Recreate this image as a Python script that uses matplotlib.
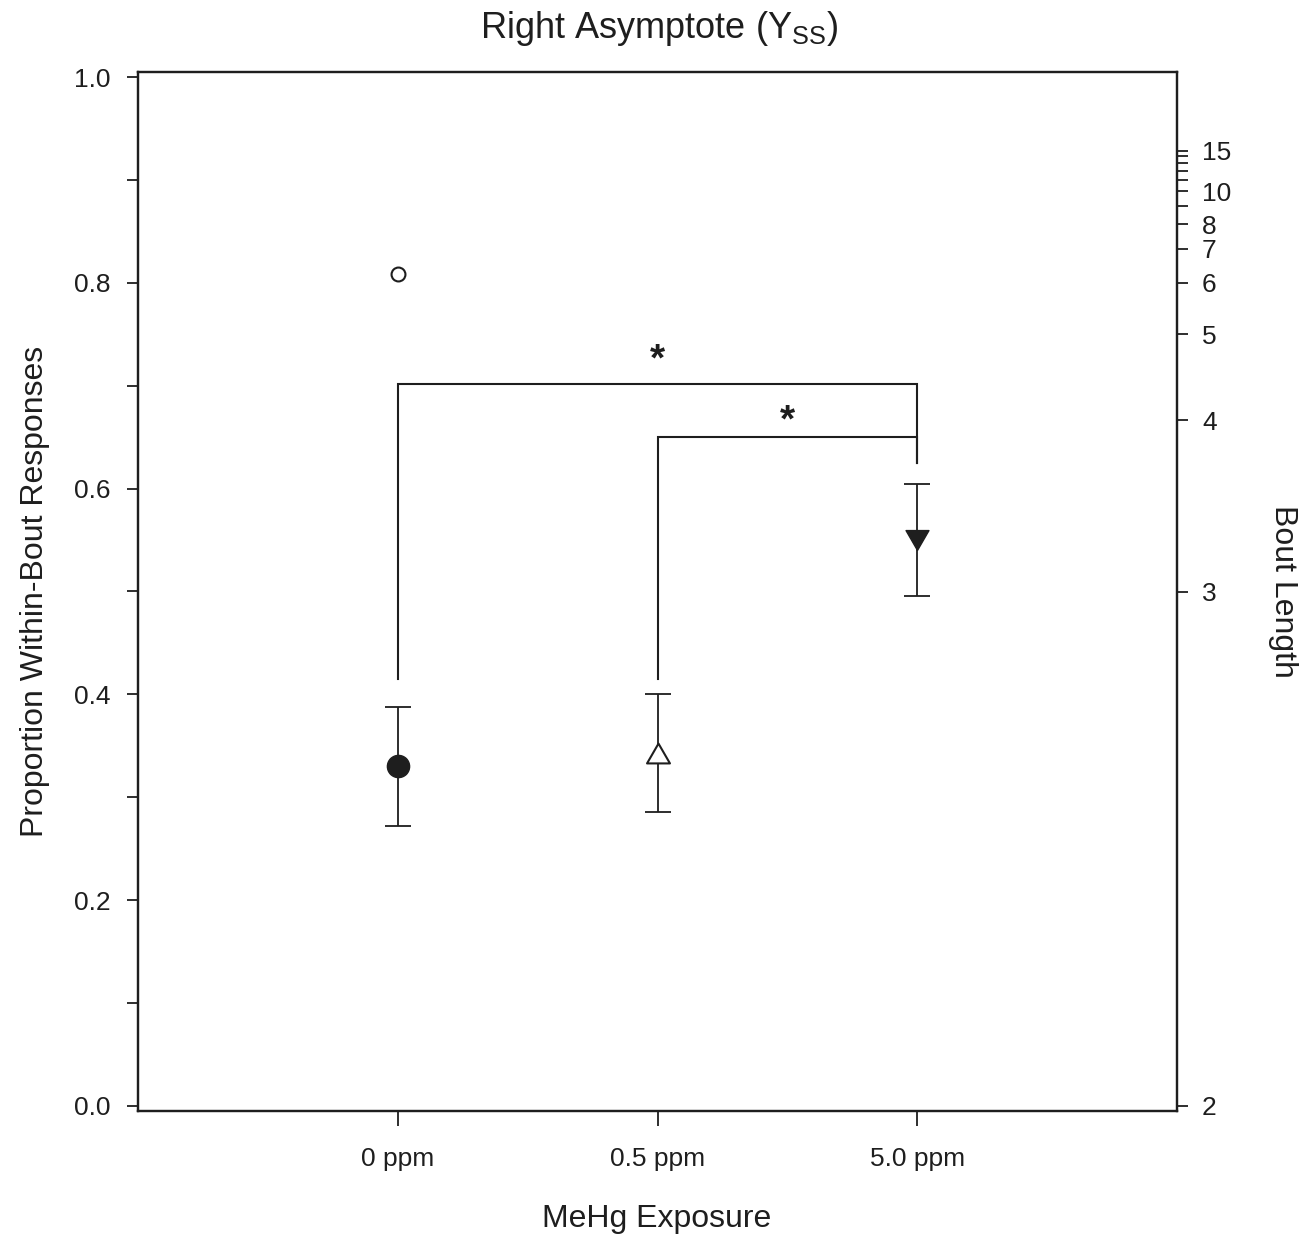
import matplotlib
matplotlib.use("Agg")
import matplotlib.pyplot as plt
from matplotlib.path import Path
import numpy as np

plt.rcParams['font.family'] = ['Liberation Sans', 'DejaVu Sans']
plt.rcParams['mathtext.fontset'] = 'custom'
plt.rcParams['mathtext.rm'] = 'Liberation Sans'
plt.rcParams['mathtext.it'] = 'Liberation Sans'

# Group summary values
groups = ["0 ppm", "0.5 ppm", "5.0 ppm"]
means = [0.330, 0.343, 0.550]
sems = [0.058, 0.057, 0.0545]
outlier_value = 0.809   # single open-circle point in 0 ppm group

# Significance brackets: (left group, right group, bar height, left leg bottom, right leg bottom, star height)
brackets = [(0, 2, 0.702, 0.415, 0.625, 0.733), (1, 2, 0.650, 0.415, 0.625, 0.673)]

# Right axis: bout length = 1 + 1/(1 - p)
bout_major = [2, 3, 4, 5, 6, 7, 8, 10, 15]
bout_minor = [9, 11, 12, 13, 14]


def bout_to_p(L):
    return 1.0 - 1.0 / (np.asarray(L, dtype=float) - 1.0)


def triangle(up=True):
    s = 1 if up else -1
    verts = [(-1, -0.866 * s), (1, -0.866 * s), (0, 0.866 * s), (-1, -0.866 * s)]
    codes = [Path.MOVETO, Path.LINETO, Path.LINETO, Path.CLOSEPOLY]
    return Path(verts, codes)


ink = "#1e1e1e"
fig = plt.figure(figsize=(13.14, 12.39), dpi=100)
ax = fig.add_axes([138/1314, 1 - 1111/1239, (1177-138)/1314, (1111-72)/1239])

x = np.arange(1, len(groups) + 1)
markers = [dict(marker='o', ms=16, mfc=ink, mec=ink),
           dict(marker=triangle(True), ms=16.5, mfc='white', mec=ink, mew=1.5),
           dict(marker=triangle(False), ms=16.5, mfc=ink, mec=ink, mew=1.0)]

for xi, m, s, mk in zip(x, means, sems, markers):
    ax.errorbar(xi, m, yerr=s, fmt='none', ecolor=ink, elinewidth=1.3,
                capsize=9.5, capthick=1.3, zorder=2)
    ax.plot(xi, m, linestyle='none', zorder=3, **mk)

ax.plot(x[0], outlier_value, marker='o', ms=10, mfc='white', mec=ink,
        mew=1.5, linestyle='none')

for i, j, h, lo_l, lo_r, star_y in brackets:
    ax.plot([x[i], x[i], x[j], x[j]], [lo_l, h, h, lo_r], color=ink, lw=1.5,
            solid_joinstyle='miter')
    ax.text((x[i] + x[j]) / 2, star_y - 0.008, "*", ha='center', va='center',
            fontsize=28, fontweight='bold', color=ink)

ax.set_xlim(0, 4)
ax.set_ylim(-0.005, 1.005)
ax.set_xticks(x)
ax.set_xticklabels(groups)
yt = np.arange(0, 1.01, 0.2)
ax.set_yticks(yt)
ax.set_yticklabels([f"{v:.1f}" for v in yt])
ax.set_yticks(np.arange(0.1, 1.0, 0.2), minor=True)

for sp in ax.spines.values():
    sp.set_linewidth(1.6)
    sp.set_color(ink)

ax.tick_params(axis='y', which='both', direction='out', length=8, width=1.3,
               colors=ink, labelsize=19, pad=12)
ax.tick_params(axis='x', direction='out', length=11, width=1.3, colors=ink,
               labelsize=19, pad=15)

ax2 = ax.twinx()
ax2.set_ylim(ax.get_ylim())
ax2.set_yticks(bout_to_p(bout_major))
ax2.set_yticklabels([str(v) for v in bout_major])
ax2.set_yticks(bout_to_p(bout_minor), minor=True)
ax2.tick_params(axis='y', which='both', direction='out', length=8, width=1.3,
                colors=ink, labelsize=19, pad=10)
for sp in ax2.spines.values():
    sp.set_linewidth(1.6)
    sp.set_color(ink)

fig.text(659/1314, 1 - 28/1239, r"Right Asymptote (Y$_{\mathrm{SS}}$)",
         ha='center', va='center', fontsize=26, color=ink)
fig.text(657/1314, 1 - 1219/1239, "MeHg Exposure", ha='center', va='center',
         fontsize=23, color=ink)
fig.text(35/1314, 1 - 591/1239, "Proportion Within-Bout Responses",
         ha='center', va='center', rotation=90, fontsize=23, color=ink)
fig.text(1283/1314, 1 - 591/1239, "Bout Length", ha='center', va='center',
         rotation=270, fontsize=23, color=ink)

fig.savefig("out.png", dpi=100, facecolor='white')
